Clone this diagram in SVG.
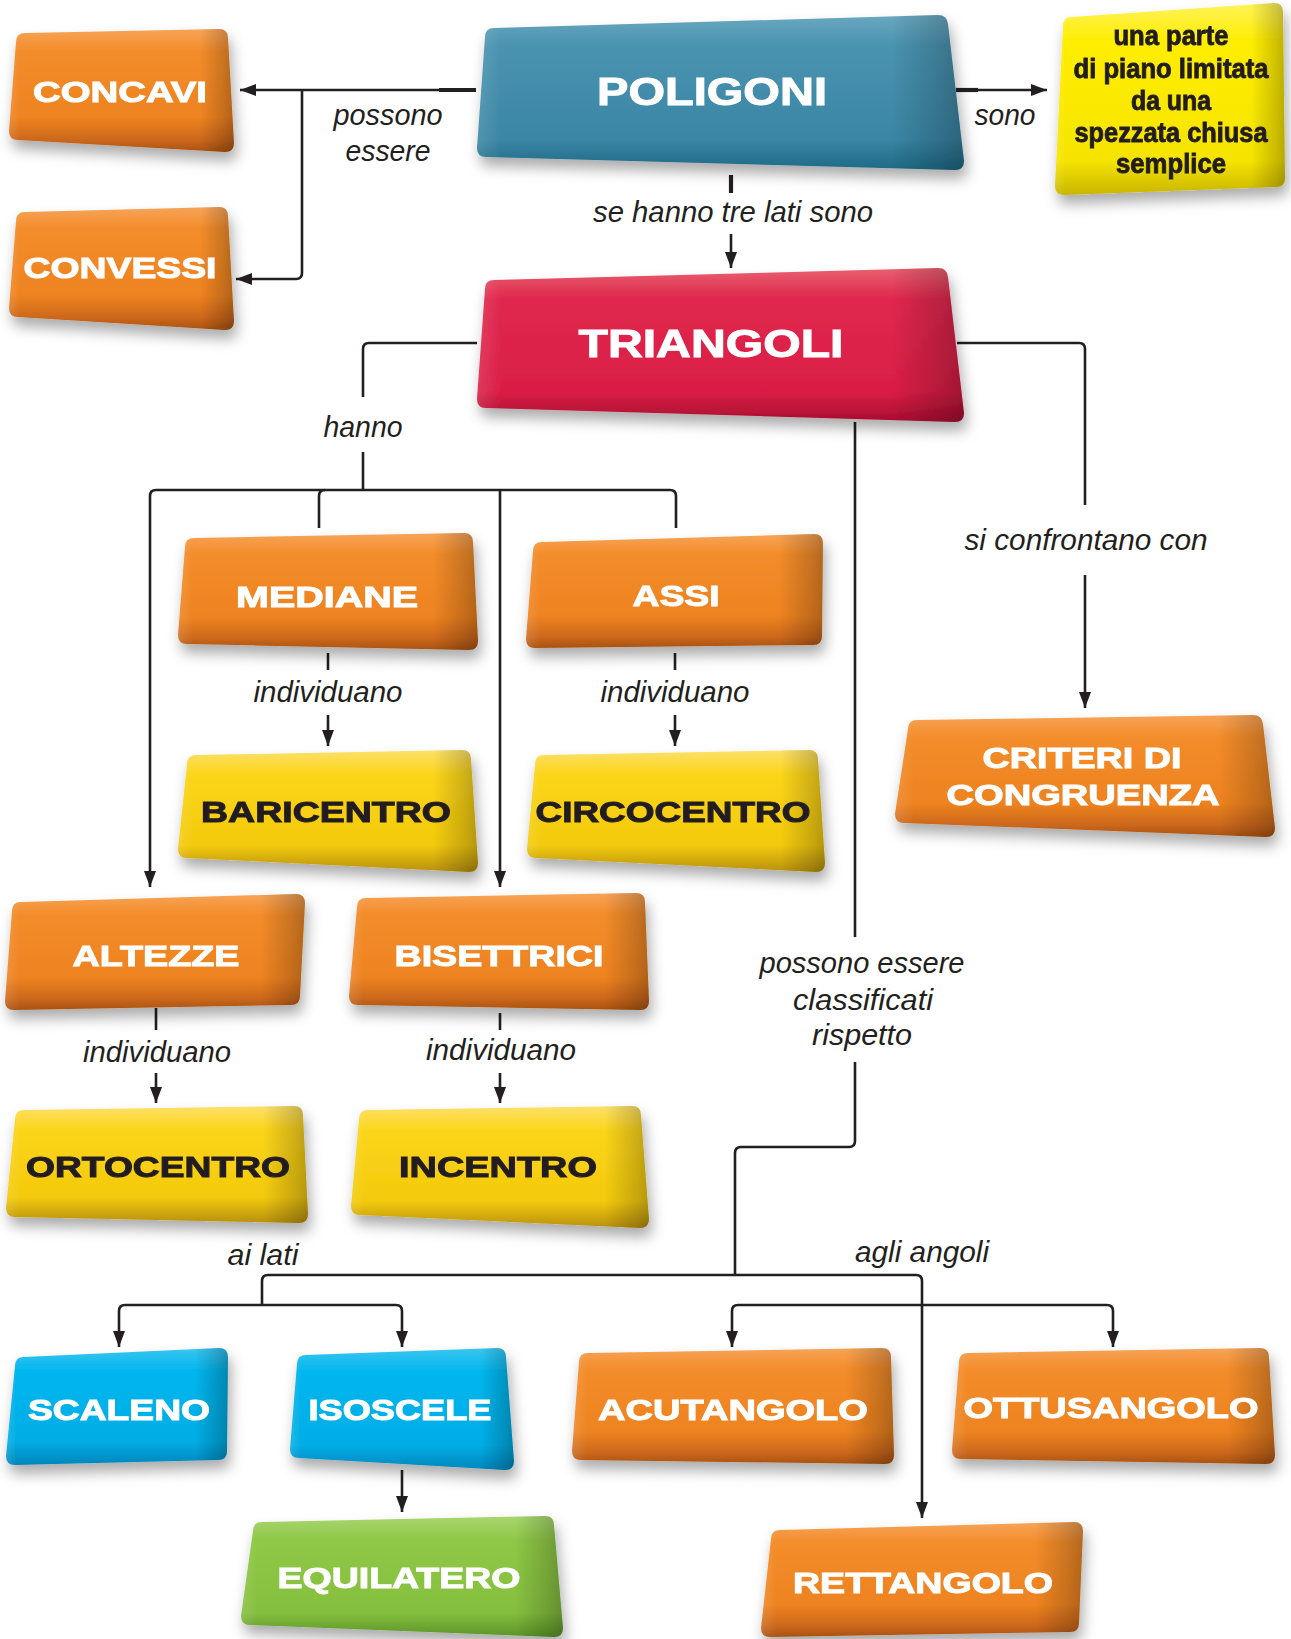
<svg xmlns="http://www.w3.org/2000/svg" width="1291" height="1639" viewBox="0 0 1291 1639">
<defs>
<style>
.edge{fill:url(#edge)}
.or{fill:url(#gOr)}
.bl{fill:url(#gBl)}
.rd{fill:url(#gRd)}
.ye{fill:url(#gYe)}
.yi{fill:url(#gYi)}
.cy{fill:url(#gCy)}
.gr{fill:url(#gGr)}
.nt{font-family:"Liberation Sans",Arial,sans-serif;font-weight:bold;fill:#ffffff;text-anchor:middle;font-size:29px;stroke:#ffffff;stroke-width:1px}
.dk{fill:#231f20;stroke:#231f20}
.big{font-size:39px}
.info{font-family:"Liberation Sans Narrow","Liberation Sans",Arial,sans-serif;font-weight:bold;fill:#231f20;text-anchor:middle;font-size:28px;stroke:#231f20;stroke-width:0.9px}
.lb{font-family:"Liberation Sans Narrow","Liberation Sans",Arial,sans-serif;font-style:italic;fill:#231f20;text-anchor:middle;font-size:30px}
.ln{fill:none;stroke:#231f20;stroke-width:2.6}
.thk{fill:none;stroke:#231f20;stroke-width:4.2}
.ar{marker-end:url(#arr)}
</style>
<marker id="arr" markerUnits="userSpaceOnUse" markerWidth="16" markerHeight="12" refX="16" refY="6" orient="auto">
<path d="M0,0 L16,6 L0,12 z" fill="#231f20"/>
</marker>
<filter id="sh" x="-20%" y="-20%" width="140%" height="150%">
<feDropShadow dx="3" dy="9" stdDeviation="7" flood-color="#000" flood-opacity="0.33"/>
</filter>
<linearGradient id="edge" x1="0" y1="0" x2="1" y2="0">
<stop offset="0" stop-color="#fff" stop-opacity="0.12"/>
<stop offset="0.05" stop-color="#fff" stop-opacity="0"/>
<stop offset="0.85" stop-color="#000" stop-opacity="0"/>
<stop offset="0.96" stop-color="#000" stop-opacity="0.18"/>
<stop offset="1" stop-color="#000" stop-opacity="0.26"/>
</linearGradient>
<linearGradient id="gOr" x1="0" y1="0" x2="0" y2="1">
<stop offset="0" stop-color="#F7A458"/>
<stop offset="0.18" stop-color="#F38C2A"/>
<stop offset="0.72" stop-color="#EE8320"/>
<stop offset="0.9" stop-color="#CC681C"/>
<stop offset="1" stop-color="#A9520F"/>
</linearGradient>
<linearGradient id="gBl" x1="0" y1="0" x2="0" y2="1">
<stop offset="0" stop-color="#6AA7C0"/>
<stop offset="0.2" stop-color="#4A93B0"/>
<stop offset="0.8" stop-color="#3A86A5"/>
<stop offset="1" stop-color="#1E6A85"/>
</linearGradient>
<linearGradient id="gRd" x1="0" y1="0" x2="0" y2="1">
<stop offset="0" stop-color="#E8606F"/>
<stop offset="0.2" stop-color="#E0284E"/>
<stop offset="0.8" stop-color="#DA1E45"/>
<stop offset="1" stop-color="#A90D30"/>
</linearGradient>
<linearGradient id="gYe" x1="0" y1="0" x2="0" y2="1">
<stop offset="0" stop-color="#FDE06A"/>
<stop offset="0.2" stop-color="#FBD51A"/>
<stop offset="0.78" stop-color="#F3CA0C"/>
<stop offset="1" stop-color="#B89008"/>
</linearGradient>
<linearGradient id="gYi" x1="0" y1="0" x2="0" y2="1">
<stop offset="0" stop-color="#FFF25A"/>
<stop offset="0.2" stop-color="#FFEE00"/>
<stop offset="0.82" stop-color="#F6E400"/>
<stop offset="1" stop-color="#C9B500"/>
</linearGradient>
<linearGradient id="gCy" x1="0" y1="0" x2="0" y2="1">
<stop offset="0" stop-color="#3AC5F1"/>
<stop offset="0.2" stop-color="#00B6EE"/>
<stop offset="0.8" stop-color="#00ADE5"/>
<stop offset="1" stop-color="#0086BC"/>
</linearGradient>
<linearGradient id="gGr" x1="0" y1="0" x2="0" y2="1">
<stop offset="0" stop-color="#A9D670"/>
<stop offset="0.2" stop-color="#8FC846"/>
<stop offset="0.8" stop-color="#85BF3E"/>
<stop offset="1" stop-color="#5A9428"/>
</linearGradient>
</defs>
<rect width="1291" height="1639" fill="#ffffff"/>

<g id="connectors">
<path class="ln ar" d="M473,90 H240"/>
<path class="thk" d="M439,90 H476"/>
<path class="ln ar" d="M302,90 V273 Q302,279 296,279 H236"/>
<path class="ln ar" d="M957,90 H1047"/>
<path class="thk" d="M956,90 H978"/>
<path class="thk" d="M731,175 V193"/>
<path class="ln ar" d="M731,234 V268"/>
<path class="ln" d="M477,343 H369 Q363,343 363,349 V397"/>
<path class="ln" d="M363,452 V490"/>
<path class="ln ar" d="M676,528 V496 Q676,490 670,490 H156 Q150,490 150,496 V887"/>
<path class="ln" d="M319,528 V496 Q319,490 325,490"/>
<path class="ln ar" d="M500,490 V887"/>
<path class="ln" d="M328,653 V670"/>
<path class="ln ar" d="M328,715 V746"/>
<path class="ln" d="M675,653 V670"/>
<path class="ln ar" d="M675,715 V746"/>
<path class="ln" d="M156,1008 V1030"/>
<path class="ln ar" d="M156,1073 V1103"/>
<path class="ln" d="M500,1013 V1030"/>
<path class="ln ar" d="M500,1073 V1103"/>
<path class="ln" d="M957,343 H1079 Q1085,343 1085,349 V505"/>
<path class="ln ar" d="M1085,575 V708"/>
<path class="ln" d="M855,422 V937"/>
<path class="ln" d="M855,1062 V1141 Q855,1147 849,1147 H741 Q735,1147 735,1153 V1275"/>
<path class="ln ar" d="M262,1305 V1281 Q262,1275 268,1275 H916 Q922,1275 922,1281 V1518"/>
<path class="ln ar" d="M262,1305 H125 Q119,1305 119,1311 V1347"/>
<path class="ln ar" d="M262,1305 H396 Q402,1305 402,1311 V1347"/>
<path class="ln ar" d="M922,1305 H738 Q732,1305 732,1311 V1347"/>
<path class="ln ar" d="M922,1305 H1107 Q1113,1305 1113,1311 V1347"/>
<path class="ln ar" d="M402,1470 V1512"/>
</g>

<g id="labels">
<text class="lb" x="388" y="125" textLength="109" lengthAdjust="spacingAndGlyphs">possono</text>
<text class="lb" x="388" y="161" textLength="85" lengthAdjust="spacingAndGlyphs">essere</text>
<text class="lb" x="1005" y="125" textLength="61" lengthAdjust="spacingAndGlyphs">sono</text>
<text class="lb" x="733" y="222" textLength="280" lengthAdjust="spacingAndGlyphs">se hanno tre lati sono</text>
<text class="lb" x="363" y="437" textLength="79" lengthAdjust="spacingAndGlyphs">hanno</text>
<text class="lb" x="328" y="702" textLength="149" lengthAdjust="spacingAndGlyphs">individuano</text>
<text class="lb" x="675" y="702" textLength="149" lengthAdjust="spacingAndGlyphs">individuano</text>
<text class="lb" x="1086" y="550" textLength="243" lengthAdjust="spacingAndGlyphs">si confrontano con</text>
<text class="lb" x="157" y="1062" textLength="148" lengthAdjust="spacingAndGlyphs">individuano</text>
<text class="lb" x="501" y="1060" textLength="150" lengthAdjust="spacingAndGlyphs">individuano</text>
<text class="lb" x="862" y="973" textLength="205" lengthAdjust="spacingAndGlyphs">possono essere</text>
<text class="lb" x="863" y="1010" textLength="140" lengthAdjust="spacingAndGlyphs">classificati</text>
<text class="lb" x="862" y="1045" textLength="100" lengthAdjust="spacingAndGlyphs">rispetto</text>
<text class="lb" x="263" y="1265" textLength="71" lengthAdjust="spacingAndGlyphs">ai lati</text>
<text class="lb" x="922" y="1262" textLength="134" lengthAdjust="spacingAndGlyphs">agli angoli</text>
</g>

<g id="n-concavi" filter="url(#sh)">
<path class="or" d="M25,33 L219,29 Q228,29 228,38 L234,143 Q234,152 225,152 L18,140 Q9,140 9,131 L16,42 Q16,33 25,33 Z"/>
<path class="edge" d="M25,33 L219,29 Q228,29 228,38 L234,143 Q234,152 225,152 L18,140 Q9,140 9,131 L16,42 Q16,33 25,33 Z"/>
<text class="nt" x="120" y="102" font-size="28" textLength="174" lengthAdjust="spacingAndGlyphs">CONCAVI</text>
</g>
<g id="n-convessi" filter="url(#sh)">
<path class="or" d="M25,212 L219,207 Q228,207 228,216 L234,321 Q234,330 225,330 L18,317 Q9,317 9,308 L16,221 Q16,212 25,212 Z"/>
<path class="edge" d="M25,212 L219,207 Q228,207 228,216 L234,321 Q234,330 225,330 L18,317 Q9,317 9,308 L16,221 Q16,212 25,212 Z"/>
<text class="nt" x="120" y="278" font-size="28" textLength="193" lengthAdjust="spacingAndGlyphs">CONVESSI</text>
</g>
<g id="n-poligoni" filter="url(#sh)">
<path class="bl" d="M494,28 L938,15 Q947,15 948,24 L964,161 Q964,170 955,170 L486,157 Q477,157 477,148 L485,37 Q485,28 494,28 Z"/>
<path class="edge" d="M494,28 L938,15 Q947,15 948,24 L964,161 Q964,170 955,170 L486,157 Q477,157 477,148 L485,37 Q485,28 494,28 Z"/>
<text class="nt big" x="712" y="105" textLength="230" lengthAdjust="spacingAndGlyphs">POLIGONI</text>
</g>
<g id="n-definizione" filter="url(#sh)">
<path class="yi" d="M1072,17 L1274,3 Q1283,3 1283,12 L1285,178 Q1285,187 1276,187 L1064,195 Q1055,195 1055,186 L1063,26 Q1063,17 1072,17 Z"/>
<path class="edge" d="M1072,17 L1274,3 Q1283,3 1283,12 L1285,178 Q1285,187 1276,187 L1064,195 Q1055,195 1055,186 L1063,26 Q1063,17 1072,17 Z"/>
<text class="info" x="1171" y="45" textLength="115" lengthAdjust="spacingAndGlyphs">una parte</text>
<text class="info" x="1171" y="78" textLength="195" lengthAdjust="spacingAndGlyphs">di piano limitata</text>
<text class="info" x="1171" y="110" textLength="80" lengthAdjust="spacingAndGlyphs">da una</text>
<text class="info" x="1171" y="142" textLength="193" lengthAdjust="spacingAndGlyphs">spezzata chiusa</text>
<text class="info" x="1171" y="173" textLength="110" lengthAdjust="spacingAndGlyphs">semplice</text>
</g>
<g id="n-triangoli" filter="url(#sh)">
<path class="rd" d="M494,280 L938,268 Q947,268 948,277 L964,413 Q964,422 955,422 L486,408 Q477,408 477,399 L485,289 Q485,280 494,280 Z"/>
<path class="edge" d="M494,280 L938,268 Q947,268 948,277 L964,413 Q964,422 955,422 L486,408 Q477,408 477,399 L485,289 Q485,280 494,280 Z"/>
<text class="nt big" x="711" y="357" font-size="38" textLength="265" lengthAdjust="spacingAndGlyphs">TRIANGOLI</text>
</g>
<g id="n-mediane" filter="url(#sh)">
<path class="or" d="M194,538 L464,533 Q473,533 473,542 L478,641 Q478,650 469,650 L187,644 Q178,644 178,635 L185,547 Q185,538 194,538 Z"/>
<path class="edge" d="M194,538 L464,533 Q473,533 473,542 L478,641 Q478,650 469,650 L187,644 Q178,644 178,635 L185,547 Q185,538 194,538 Z"/>
<text class="nt" x="327" y="607" textLength="182" lengthAdjust="spacingAndGlyphs">MEDIANE</text>
</g>
<g id="n-assi" filter="url(#sh)">
<path class="or" d="M542,542 L814,534 Q823,534 823,543 L822,636 Q822,645 813,645 L535,648 Q526,648 526,639 L533,551 Q533,542 542,542 Z"/>
<path class="edge" d="M542,542 L814,534 Q823,534 823,543 L822,636 Q822,645 813,645 L535,648 Q526,648 526,639 L533,551 Q533,542 542,542 Z"/>
<text class="nt" x="676" y="606" textLength="87" lengthAdjust="spacingAndGlyphs">ASSI</text>
</g>
<g id="n-baricentro" filter="url(#sh)">
<path class="ye" d="M196,755 L462,750 Q471,750 471,759 L478,863 Q478,872 469,872 L187,858 Q178,858 178,849 L187,764 Q187,755 196,755 Z"/>
<path class="edge" d="M196,755 L462,750 Q471,750 471,759 L478,863 Q478,872 469,872 L187,858 Q178,858 178,849 L187,764 Q187,755 196,755 Z"/>
<text class="nt dk" x="326" y="822" textLength="250" lengthAdjust="spacingAndGlyphs">BARICENTRO</text>
</g>
<g id="n-circocentro" filter="url(#sh)">
<path class="ye" d="M544,755 L809,750 Q818,750 818,759 L825,863 Q825,872 816,872 L536,858 Q527,858 527,849 L535,764 Q535,755 544,755 Z"/>
<path class="edge" d="M544,755 L809,750 Q818,750 818,759 L825,863 Q825,872 816,872 L536,858 Q527,858 527,849 L535,764 Q535,755 544,755 Z"/>
<text class="nt dk" x="673" y="822" textLength="275" lengthAdjust="spacingAndGlyphs">CIRCOCENTRO</text>
</g>
<g id="n-criteri" filter="url(#sh)">
<path class="or" d="M917,720 L1253,715 Q1262,715 1263,724 L1275,828 Q1275,837 1266,837 L904,823 Q895,823 895,814 L908,729 Q908,720 917,720 Z"/>
<path class="edge" d="M917,720 L1253,715 Q1262,715 1263,724 L1275,828 Q1275,837 1266,837 L904,823 Q895,823 895,814 L908,729 Q908,720 917,720 Z"/>
<text class="nt" x="1082" y="768" textLength="199" lengthAdjust="spacingAndGlyphs">CRITERI DI</text>
<text class="nt" x="1083" y="805" textLength="273" lengthAdjust="spacingAndGlyphs">CONGRUENZA</text>
</g>
<g id="n-altezze" filter="url(#sh)">
<path class="or" d="M21,902 L296,894 Q305,894 305,903 L300,996 Q300,1005 291,1005 L14,1010 Q5,1010 5,1001 L12,911 Q12,902 21,902 Z"/>
<path class="edge" d="M21,902 L296,894 Q305,894 305,903 L300,996 Q300,1005 291,1005 L14,1010 Q5,1010 5,1001 L12,911 Q12,902 21,902 Z"/>
<text class="nt" x="156" y="966" textLength="167" lengthAdjust="spacingAndGlyphs">ALTEZZE</text>
</g>
<g id="n-bisettrici" filter="url(#sh)">
<path class="or" d="M366,898 L636,893 Q645,893 645,902 L649,1001 Q649,1010 640,1010 L358,1005 Q349,1005 349,996 L357,907 Q357,898 366,898 Z"/>
<path class="edge" d="M366,898 L636,893 Q645,893 645,902 L649,1001 Q649,1010 640,1010 L358,1005 Q349,1005 349,996 L357,907 Q357,898 366,898 Z"/>
<text class="nt" x="499" y="966" textLength="209" lengthAdjust="spacingAndGlyphs">BISETTRICI</text>
</g>
<g id="n-ortocentro" filter="url(#sh)">
<path class="ye" d="M24,1110 L294,1106 Q303,1106 303,1115 L308,1214 Q308,1223 299,1223 L15,1217 Q6,1217 6,1208 L15,1119 Q15,1110 24,1110 Z"/>
<path class="edge" d="M24,1110 L294,1106 Q303,1106 303,1115 L308,1214 Q308,1223 299,1223 L15,1217 Q6,1217 6,1208 L15,1119 Q15,1110 24,1110 Z"/>
<text class="nt dk" x="158" y="1177" textLength="264" lengthAdjust="spacingAndGlyphs">ORTOCENTRO</text>
</g>
<g id="n-incentro" filter="url(#sh)">
<path class="ye" d="M368,1110 L632,1106 Q641,1106 641,1115 L649,1219 Q649,1228 640,1228 L360,1215 Q351,1215 351,1206 L359,1119 Q359,1110 368,1110 Z"/>
<path class="edge" d="M368,1110 L632,1106 Q641,1106 641,1115 L649,1219 Q649,1228 640,1228 L360,1215 Q351,1215 351,1206 L359,1119 Q359,1110 368,1110 Z"/>
<text class="nt dk" x="498" y="1177" textLength="198" lengthAdjust="spacingAndGlyphs">INCENTRO</text>
</g>
<g id="n-scaleno" filter="url(#sh)">
<path class="cy" d="M24,1357 L219,1348 Q228,1348 228,1357 L227,1451 Q227,1460 218,1460 L15,1465 Q6,1465 6,1456 L15,1366 Q15,1357 24,1357 Z"/>
<path class="edge" d="M24,1357 L219,1348 Q228,1348 228,1357 L227,1451 Q227,1460 218,1460 L15,1465 Q6,1465 6,1456 L15,1366 Q15,1357 24,1357 Z"/>
<text class="nt" x="119" y="1420" textLength="182" lengthAdjust="spacingAndGlyphs">SCALENO</text>
</g>
<g id="n-isoscele" filter="url(#sh)">
<path class="cy" d="M306,1355 L497,1348 Q506,1348 506,1357 L514,1461 Q514,1470 505,1470 L299,1458 Q290,1458 290,1449 L297,1364 Q297,1355 306,1355 Z"/>
<path class="edge" d="M306,1355 L497,1348 Q506,1348 506,1357 L514,1461 Q514,1470 505,1470 L299,1458 Q290,1458 290,1449 L297,1364 Q297,1355 306,1355 Z"/>
<text class="nt" x="400" y="1420" textLength="183" lengthAdjust="spacingAndGlyphs">ISOSCELE</text>
</g>
<g id="n-equilatero" filter="url(#sh)">
<path class="gr" d="M262,1522 L545,1516 Q554,1516 554,1525 L563,1628 Q563,1637 554,1637 L250,1625 Q241,1625 241,1616 L253,1531 Q253,1522 262,1522 Z"/>
<path class="edge" d="M262,1522 L545,1516 Q554,1516 554,1525 L563,1628 Q563,1637 554,1637 L250,1625 Q241,1625 241,1616 L253,1531 Q253,1522 262,1522 Z"/>
<text class="nt" x="399" y="1588" textLength="243" lengthAdjust="spacingAndGlyphs">EQUILATERO</text>
</g>
<g id="n-acutangolo" filter="url(#sh)">
<path class="or" d="M588,1353 L882,1348 Q891,1348 891,1357 L894,1455 Q894,1464 885,1464 L581,1460 Q572,1460 572,1451 L579,1362 Q579,1353 588,1353 Z"/>
<path class="edge" d="M588,1353 L882,1348 Q891,1348 891,1357 L894,1455 Q894,1464 885,1464 L581,1460 Q572,1460 572,1451 L579,1362 Q579,1353 588,1353 Z"/>
<text class="nt" x="733" y="1420" textLength="270" lengthAdjust="spacingAndGlyphs">ACUTANGOLO</text>
</g>
<g id="n-ottusangolo" filter="url(#sh)">
<path class="or" d="M968,1353 L1260,1348 Q1269,1348 1269,1357 L1275,1455 Q1275,1464 1266,1464 L961,1459 Q952,1459 952,1450 L959,1362 Q959,1353 968,1353 Z"/>
<path class="edge" d="M968,1353 L1260,1348 Q1269,1348 1269,1357 L1275,1455 Q1275,1464 1266,1464 L961,1459 Q952,1459 952,1450 L959,1362 Q959,1353 968,1353 Z"/>
<text class="nt" x="1111" y="1418" textLength="295" lengthAdjust="spacingAndGlyphs">OTTUSANGOLO</text>
</g>
<g id="n-rettangolo" filter="url(#sh)">
<path class="or" d="M780,1530 L1074,1522 Q1083,1522 1083,1531 L1079,1623 Q1079,1632 1070,1632 L770,1637 Q761,1637 761,1628 L771,1539 Q771,1530 780,1530 Z"/>
<path class="edge" d="M780,1530 L1074,1522 Q1083,1522 1083,1531 L1079,1623 Q1079,1632 1070,1632 L770,1637 Q761,1637 761,1628 L771,1539 Q771,1530 780,1530 Z"/>
<text class="nt" x="923" y="1593" textLength="260" lengthAdjust="spacingAndGlyphs">RETTANGOLO</text>
</g>
</svg>
